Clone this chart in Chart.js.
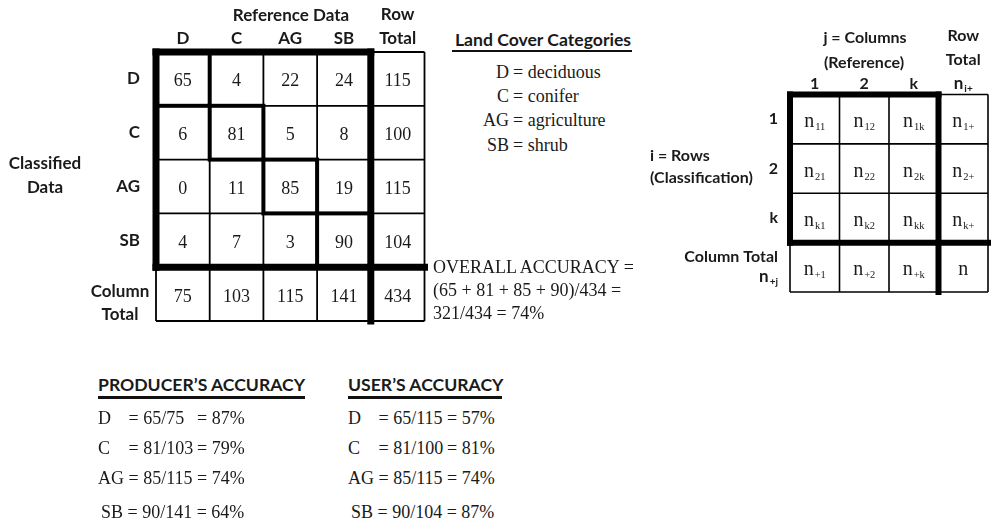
<!DOCTYPE html>
<html><head><meta charset="utf-8">
<script src="https://cdn.jsdelivr.net/npm/chart.js@4.4.1/dist/chart.umd.min.js"></script>
<style>
html,body{margin:0;padding:0;background:#fff;}
#wrap{position:relative;width:994px;height:524px;overflow:hidden;background:#fff;}
canvas{position:absolute;}
.t{position:absolute;white-space:pre;color:#1a1a1a;height:22px;line-height:22px;}
.h{font-family:Lato,"Open Sans",sans-serif;font-weight:700;font-size:17px;}
.hb{font-family:Lato,"Open Sans",sans-serif;font-weight:700;font-size:17.6px;}
.h2{font-family:Lato,"Open Sans",sans-serif;font-weight:700;font-size:16px;}
.s{font-family:"Liberation Serif","Times New Roman",serif;font-size:18px;}
.rule{position:absolute;background:#111;}
</style></head><body>
<div id="wrap">
  <canvas id="c1" width="440" height="330" style="left:0;top:0"></canvas>
  <canvas id="c2" width="354" height="300" style="left:640px;top:0"></canvas>
</div>
<script>
// ---------------- data ----------------
const categories = ['D', 'C', 'AG', 'SB'];
const categoryNames = ['deciduous', 'conifer', 'agriculture', 'shrub'];
const rowD  = [65, 4, 22, 24];
const rowC  = [6, 81, 5, 8];
const rowAG = [0, 11, 85, 19];
const rowSB = [4, 7, 3, 90];
const refTickLabels = ['D', 'C', 'AG', 'SB', ['Row', 'Total']];
const clsTickLabels = ['D', 'C', 'AG', 'SB', ''];
const genIdx = ['1', '2', 'k'];
const genColTickLabels = ['1', '2', 'k', ['Row', 'Total', '']];
const genRowTickLabels = ['1', '2', 'k', ['Column Total', '']];

// ---------------- derived ----------------
const matrix = [rowD, rowC, rowAG, rowSB];
const rowTotals = matrix.map(r => r.reduce((a, b) => a + b, 0));
const colTotals = categories.map((_, j) => matrix.reduce((a, r) => a + r[j], 0));
const grand = rowTotals.reduce((a, b) => a + b, 0);
const cellText1 = matrix.map((r, i) => [...r, rowTotals[i]].map(String))
  .concat([[...colTotals, grand].map(String)]);
const diag = matrix.map((r, i) => r[i]);
const diagSum = diag.reduce((a, b) => a + b, 0);
const pct = (a, b) => Math.round(100 * a / b) + '%';

// generic matrix subscripts
const cellSub2 = [];
for (let r = 0; r < 4; r++) {
  const row = [];
  for (let c = 0; c < 4; c++) {
    if (r < 3 && c < 3) row.push(genIdx[r] + genIdx[c]);
    else if (r < 3) row.push(genIdx[r] + '+');
    else if (c < 3) row.push('+' + genIdx[c]);
    else row.push('');
  }
  cellSub2.push(row);
}

const INK = '#1a1a1a';
const SANS = 'Lato, "Open Sans", sans-serif';
const SERIF = '"Liberation Serif", "Times New Roman", serif';

function rowDatasets(nRows, nCols) {
  const ds = [];
  for (let r = 0; r < nRows; r++) {
    const d = [];
    for (let c = 0; c < nCols; c++) d.push([r, r + 1]);
    ds.push({ data: d, backgroundColor: '#ffffff', borderWidth: 0, grouped: false,
              barPercentage: 1, categoryPercentage: 1 });
  }
  return ds;
}

function fixAxis(prop, size) {
  return function (s) {
    s[prop] = size;
    s.paddingLeft = 0; s.paddingRight = 0; s.paddingTop = 0; s.paddingBottom = 0;
  };
}

function line(ctx, x1, y1, x2, y2, w) {
  ctx.beginPath();
  ctx.lineWidth = w;
  ctx.moveTo(x1, y1); ctx.lineTo(x2, y2);
  ctx.stroke();
}

function drawSub(ctx, base, sub, x, baseline, baseFont, subFont, align, subDrop) {
  ctx.font = baseFont;
  const wb = ctx.measureText(base).width;
  ctx.font = subFont;
  const ws = sub ? ctx.measureText(sub).width + 1 : 0;
  const total = wb + ws;
  let x0 = align === 'right' ? x - total : x - total / 2;
  ctx.textAlign = 'left';
  ctx.textBaseline = 'alphabetic';
  ctx.font = baseFont;
  ctx.fillText(base, x0, baseline);
  if (sub) {
    ctx.font = subFont;
    ctx.fillText(sub, x0 + wb + 1, baseline + subDrop);
  }
}

function gridPlugin(opts) {
  return {
    id: 'grid_' + opts.name,
    afterDraw(chart) {
      const ctx = chart.ctx;
      const xs = chart.scales.x, ys = chart.scales.y;
      const n = opts.n; // main square size
      const X = c => xs.getPixelForValue(c - 0.5);
      const Y = r => ys.getPixelForValue(r);
      ctx.save();
      ctx.strokeStyle = '#000';
      ctx.lineCap = 'butt';
      // thin grid
      for (let c = 0; c <= n + 1; c++) line(ctx, X(c), Y(0), X(c), Y(n + 1), opts.thin);
      for (let r = 0; r <= n + 1; r++) line(ctx, X(0), Y(r), X(n + 1), Y(r), opts.thin);
      // diagonal cells
      if (opts.diagW) {
        for (let i = 0; i < n; i++) {
          ctx.lineWidth = opts.diagW;
          ctx.strokeRect(X(i), Y(i), X(i + 1) - X(i), Y(i + 1) - Y(i));
        }
      }
      // thick frame
      ctx.lineCap = 'square';
      line(ctx, X(0), Y(0), X(0), Y(n), opts.thick);
      line(ctx, X(0), Y(0), X(n), Y(0), opts.thick);
      line(ctx, X(n), Y(0), X(n), Y(n + 1), opts.thick);
      line(ctx, X(0), Y(n), X(n + 1), Y(n), opts.thick);
      // cell text
      ctx.fillStyle = INK;
      chart.data.datasets.forEach((ds, r) => {
        const meta = chart.getDatasetMeta(r);
        meta.data.forEach((el, c) => {
          const cx = el.x, cy = (el.y + el.base) / 2;
          opts.cellText(ctx, r, c, cx, cy);
        });
      });
      if (opts.extra) opts.extra(ctx, chart, X, Y);
      ctx.restore();
    }
  };
}

Chart.defaults.animation = false;
Chart.defaults.color = INK;

// ---------------- chart 1: land cover error matrix ----------------
new Chart(document.getElementById('c1'), {
  type: 'bar',
  data: { labels: refTickLabels, datasets: rowDatasets(5, 5) },
  options: {
    responsive: false,
    animation: false,
    layout: { padding: { left: 0, top: 0, right: 15.5, bottom: 9 } },
    plugins: { legend: { display: false }, tooltip: { enabled: false } },
    scales: {
      x: {
        type: 'category', position: 'top', offset: true,
        grid: { display: false, drawTicks: false }, border: { display: false },
        ticks: { autoSkip: false, maxRotation: 0, padding: 1.6, color: INK,
                 font: { family: SANS, weight: 'bold', size: 17, lineHeight: 1.4 } },
        afterFit: fixAxis('height', 52)
      },
      y: {
        type: 'linear', min: 0, max: 5, reverse: true,
        grid: { display: false, drawTicks: false }, border: { display: false },
        afterBuildTicks: s => { s.ticks = [0.5, 1.5, 2.5, 3.5, 4.5].map(v => ({ value: v })); },
        ticks: { autoSkip: false, padding: 16, color: INK,
                 callback: (v, i) => clsTickLabels[i],
                 font: { family: SANS, weight: 'bold', size: 17 } },
        afterFit: fixAxis('width', 156)
      }
    }
  },
  plugins: [gridPlugin({
    name: 'c1', n: 4, thin: 1.8, diagW: 4, thick: 7,
    cellText(ctx, r, c, cx, cy) {
      ctx.font = '18px ' + SERIF;
      ctx.textAlign = 'center';
      ctx.textBaseline = 'alphabetic';
      ctx.fillText(cellText1[r][c], cx, cy + 7.5);
    }
  })]
});

// ---------------- chart 2: generic error matrix ----------------
new Chart(document.getElementById('c2'), {
  type: 'bar',
  data: { labels: genColTickLabels, datasets: rowDatasets(4, 4) },
  options: {
    responsive: false,
    animation: false,
    layout: { padding: { left: 0, top: 0, right: 6, bottom: 8 } },
    plugins: { legend: { display: false }, tooltip: { enabled: false } },
    scales: {
      x: {
        type: 'category', position: 'top', offset: true,
        grid: { display: false, drawTicks: false }, border: { display: false },
        ticks: { autoSkip: false, maxRotation: 0, padding: -1, color: INK,
                 font: { family: SANS, weight: 'bold', size: 16, lineHeight: 1.5 } },
        afterFit: fixAxis('height', 94.5)
      },
      y: {
        type: 'linear', min: 0, max: 4, reverse: true,
        grid: { display: false, drawTicks: false }, border: { display: false },
        afterBuildTicks: s => { s.ticks = [0.5, 1.5, 2.5, 3.5].map(v => ({ value: v })); },
        ticks: { autoSkip: false, padding: 12, color: INK,
                 callback: (v, i) => genRowTickLabels[i],
                 font: { family: SANS, weight: 'bold', size: 16, lineHeight: 1.25 } },
        afterFit: fixAxis('width', 150)
      }
    }
  },
  plugins: [gridPlugin({
    name: 'c2', n: 3, thin: 1.6, diagW: 0, thick: 6,
    cellText(ctx, r, c, cx, cy) {
      drawSub(ctx, 'n', cellSub2[r][c], cx, cy + 8, '20px ' + SERIF, '10.5px ' + SERIF, 'center', 3);
    },
    extra(ctx, chart, X, Y) {
      const xs = chart.scales.x, ys = chart.scales.y;
      ctx.fillStyle = INK;
      // n_{i+} header under "Row Total"
      drawSub(ctx, 'n', 'i+', xs.getPixelForValue(3), chart.chartArea.top - 6,
              'bold 17px ' + SANS, 'bold 10px ' + SANS, 'center', 3);
      // n_{+j} under "Column Total"
      drawSub(ctx, 'n', '+j', chart.chartArea.left - 12, ys.getPixelForValue(3.5) + 15,
              'bold 17px ' + SANS, 'bold 10px ' + SANS, 'right', 3);
    }
  })]
});

// ---------------- annotation text ----------------
const wrap = document.getElementById('wrap');
function T(text, x, cy, cls, align) {
  const d = document.createElement('div');
  d.className = 't ' + cls;
  d.textContent = text;
  d.style.top = (cy - 11) + 'px';
  if (align === 'center') { d.style.left = x + 'px'; d.style.transform = 'translateX(-50%)'; }
  else if (align === 'right') { d.style.right = (994 - x) + 'px'; }
  else d.style.left = x + 'px';
  wrap.appendChild(d);
  return d;
}
function rule(x1, x2, y, h) {
  const d = document.createElement('div');
  d.className = 'rule';
  d.style.left = x1 + 'px'; d.style.width = (x2 - x1) + 'px';
  d.style.top = y + 'px'; d.style.height = h + 'px';
  wrap.appendChild(d);
}
const mctx = document.createElement('canvas').getContext('2d');
mctx.font = '18px ' + SERIF;
const tw = s => mctx.measureText(s).width;

T('Reference Data', 291, 15, 'h', 'center');
T('Classified', 45, 163, 'h', 'center');
T('Data', 45, 187, 'h', 'center');
T('Column', 120, 291, 'h', 'center');
T('Total', 120, 314, 'h', 'center');

T('Land Cover Categories', 543, 40, 'hb', 'center');
rule(452, 632, 49.5, 2.5);
const legendY = [72, 96, 120, 145];
categories.forEach((c, i) => {
  T(c, 509, legendY[i], 's', 'right');
  T('= ' + categoryNames[i], 513, legendY[i], 's', 'left');
});

T('OVERALL ACCURACY =', 433, 267, 's', 'left');
T('(' + diag.join(' + ') + ')/' + grand + ' =', 433, 290, 's', 'left');
T(diagSum + '/' + grand + ' = ' + pct(diagSum, grand), 433, 313, 's', 'left');

T('j = Columns', 865, 37, 'h2', 'center');
T('(Reference)', 864, 62, 'h2', 'center');
T('i = Rows', 650, 155, 'h2', 'left');
T('(Classification)', 650, 177, 'h2', 'left');

T('PRODUCER’S ACCURACY', 98, 385, 'hb', 'left');
rule(98, 305, 395.5, 3);
T('USER’S ACCURACY', 348, 385, 'hb', 'left');
rule(348, 502, 395.5, 3);
const accY = [418, 448, 478, 512];
function accuracyBlock(x0, totals) {
  const eqX = x0 + tw('AG ');
  const endX = x0 + tw('AG = 85/115 = 74%');
  categories.forEach((c, i) => {
    const frac = diag[i] + '/' + totals[i];
    const p = pct(diag[i], totals[i]);
    const full = c + ' = ' + frac + ' = ' + p;
    if (c.length > 1) {
      T(full, x0 + (i === 3 ? 3 : 0), accY[i], 's', 'left');
    } else {
      T(c, x0, accY[i], 's', 'left');
      T('= ' + frac, eqX, accY[i], 's', 'left');
      T('= ' + p, endX, accY[i], 's', 'right');
    }
  });
}
accuracyBlock(98, colTotals);
accuracyBlock(348, rowTotals);
</script>
</body></html>
